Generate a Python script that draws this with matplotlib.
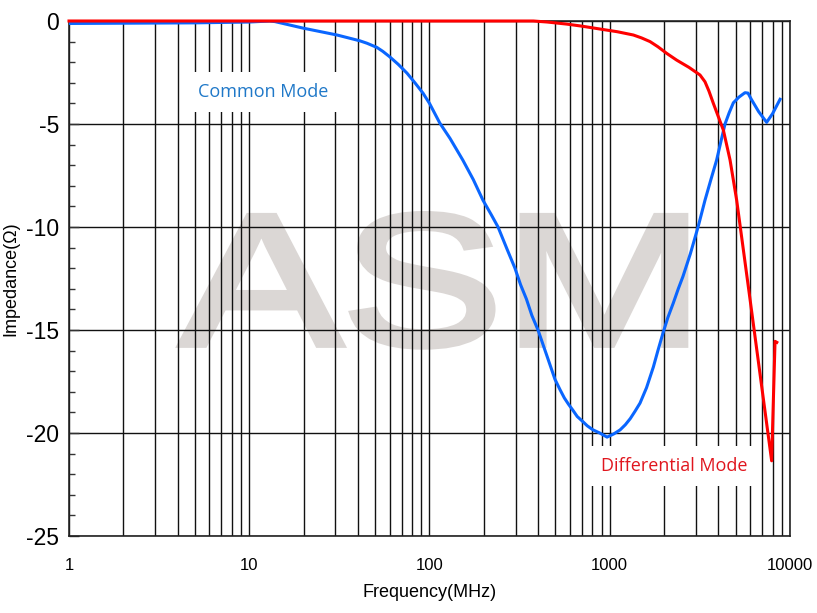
import matplotlib
matplotlib.use('Agg')
import matplotlib.pyplot as plt
from matplotlib.ticker import FixedLocator, FixedFormatter, LogLocator, NullFormatter, MultipleLocator
from matplotlib.patheffects import AbstractPathEffect
from matplotlib.transforms import Affine2D

plt.rcParams['font.family'] = ['Liberation Sans', 'DejaVu Sans']

# ---------------- data ----------------
cm_freq = [1, 5, 10, 13, 13.9, 20, 30.7, 41, 45, 51, 55, 60, 67, 75, 83, 92,
           100, 114, 130, 153, 175, 198, 220, 240, 270, 298, 320, 345, 370,
           400, 430, 450, 497, 530, 560, 590, 625, 660, 700, 750, 808, 880,
           966, 1050, 1141, 1220, 1300, 1380, 1472, 1600, 1745, 1850, 1974,
           2100, 2250, 2400, 2548, 2800, 3090, 3230, 3376, 3640, 3917, 4100,
           4360, 4600, 4850, 5200, 5625, 5850, 6100, 6700, 7420, 8000, 8810]
cm_imp = [-0.12, -0.09, -0.05, 0.0, -0.03, -0.35, -0.68, -0.96, -1.08, -1.28,
          -1.47, -1.73, -2.1, -2.53, -3.0, -3.5, -4.0, -4.95, -5.7, -6.75,
          -7.7, -8.7, -9.4, -10.0, -11.1, -12.0, -12.8, -13.5, -14.3, -15.0,
          -15.8, -16.3, -17.4, -17.9, -18.3, -18.6, -18.9, -19.2, -19.4,
          -19.65, -19.85, -20.0, -20.2, -20.05, -19.85, -19.6, -19.3, -18.95,
          -18.55, -17.8, -16.8, -16.0, -15.15, -14.4, -13.7, -13.0, -12.4,
          -11.3, -10.0, -9.35, -8.7, -7.7, -6.75, -6.0, -5.0, -4.45, -3.97,
          -3.7, -3.48, -3.5, -3.8, -4.4, -4.92, -4.5, -3.8]

dm_freq = [1, 100, 377, 450, 577, 700, 883, 1100, 1352, 1500, 1673, 1850,
           2069, 2352, 2750, 3167, 3376, 3550, 3757, 4270, 4650, 5060, 6000,
           7910, 8260, 8450]
dm_imp = [0.0, 0.0, 0.0, -0.05, -0.15, -0.25, -0.39, -0.52, -0.68, -0.82,
          -1.0, -1.25, -1.57, -1.9, -2.25, -2.62, -2.95, -3.4, -4.0, -5.3,
          -6.75, -8.7, -13.5, -21.35, -15.55, -15.6]

xtick_values = [1, 10, 100, 1000, 10000]
xtick_labels = ['1', '10', '100', '1000', '10000']
ytick_values = [0, -5, -10, -15, -20, -25]
ytick_labels = ['0', '-5', '-10', '-15', '-20', '-25']

cm_label = 'Common Mode'
dm_label = 'Differential Mode'
watermark = 'ASM'


class HStretch(AbstractPathEffect):
    """Stretch a text's glyphs horizontally about their centre and embolden."""
    def __init__(self, sx, stroke=0.0):
        super().__init__()
        self.sx = sx
        self.stroke = stroke

    def draw_path(self, renderer, gc, tpath, affine, rgbFace=None):
        ext = tpath.get_extents(affine)
        cx = 0.5 * (ext.x0 + ext.x1)
        t = affine + Affine2D().translate(-cx, 0).scale(self.sx, 1.0).translate(cx, 0)
        gc0 = renderer.new_gc()
        gc0.copy_properties(gc)
        if self.stroke > 0 and rgbFace is not None:
            gc0.set_foreground(rgbFace)
            gc0.set_linewidth(self.stroke)
            gc0.set_joinstyle('miter')
        renderer.draw_path(gc0, tpath, t, rgbFace)
        gc0.restore()


fig = plt.figure(figsize=(8.17, 6.13), dpi=100)
ax = fig.add_axes([69 / 817, 1 - 536 / 613, 721 / 817, 515 / 613])

ax.set_xscale('log')
ax.set_xlim(1, 10000)
ax.set_ylim(-25, 0)

ax.plot(cm_freq, cm_imp, color='#0a66ff', lw=2.2, zorder=3, solid_joinstyle='round')
ax.plot(dm_freq, dm_imp, color='#ff0000', lw=2.2, zorder=3.1, clip_on=False,
        solid_joinstyle='round')

# ticks
ax.xaxis.set_major_locator(FixedLocator(xtick_values))
ax.xaxis.set_major_formatter(FixedFormatter(xtick_labels))
ax.xaxis.set_minor_locator(LogLocator(base=10, subs=range(2, 10)))
ax.xaxis.set_minor_formatter(NullFormatter())
ax.yaxis.set_major_locator(FixedLocator(ytick_values))
ax.yaxis.set_major_formatter(FixedFormatter(ytick_labels))
ax.yaxis.set_minor_locator(MultipleLocator(1))

ax.tick_params(axis='x', which='both', length=0, pad=16, labelsize=12)
ax.tick_params(axis='y', which='major', direction='in', length=7, width=1,
               pad=7, labelsize=16.5, color='#333333')
ax.tick_params(axis='y', which='minor', direction='in', length=4, width=1,
               color='#333333')

ax.set_axisbelow(True)
ax.grid(True, which='both', axis='x', color='#111111', lw=1.0)
ax.grid(True, which='major', axis='y', color='#111111', lw=1.0)

for s in ax.spines.values():
    s.set_linewidth(1.2)
    s.set_color('#222222')

ax.set_xlabel('Frequency(MHz)', fontsize=13, labelpad=8)
ax.set_ylabel('Impedance(Ω)', fontsize=13)
ax.yaxis.set_label_coords(-0.069, 0.5)

# watermark
ax.text(0.515, 0.372, watermark, transform=ax.transAxes, fontsize=134,
        color='#dbd7d5', ha='center', va='baseline', zorder=0.3,
        family='Liberation Sans', path_effects=[HStretch(1.3, stroke=5)])

# series labels
ax.text(11.9, -3.45, cm_label, color='#1f78c8', fontsize=13, family='Open Sans',
        ha='center', va='center', zorder=4,
        bbox=dict(boxstyle='square,pad=0.6', fc='white', ec='none'))
ax.text(2272, -21.6, dm_label, color='#e0161e', fontsize=13, family='Open Sans',
        ha='center', va='center', zorder=4,
        bbox=dict(boxstyle='square,pad=0.6', fc='white', ec='none'))

fig.savefig('out.png', dpi=100)
